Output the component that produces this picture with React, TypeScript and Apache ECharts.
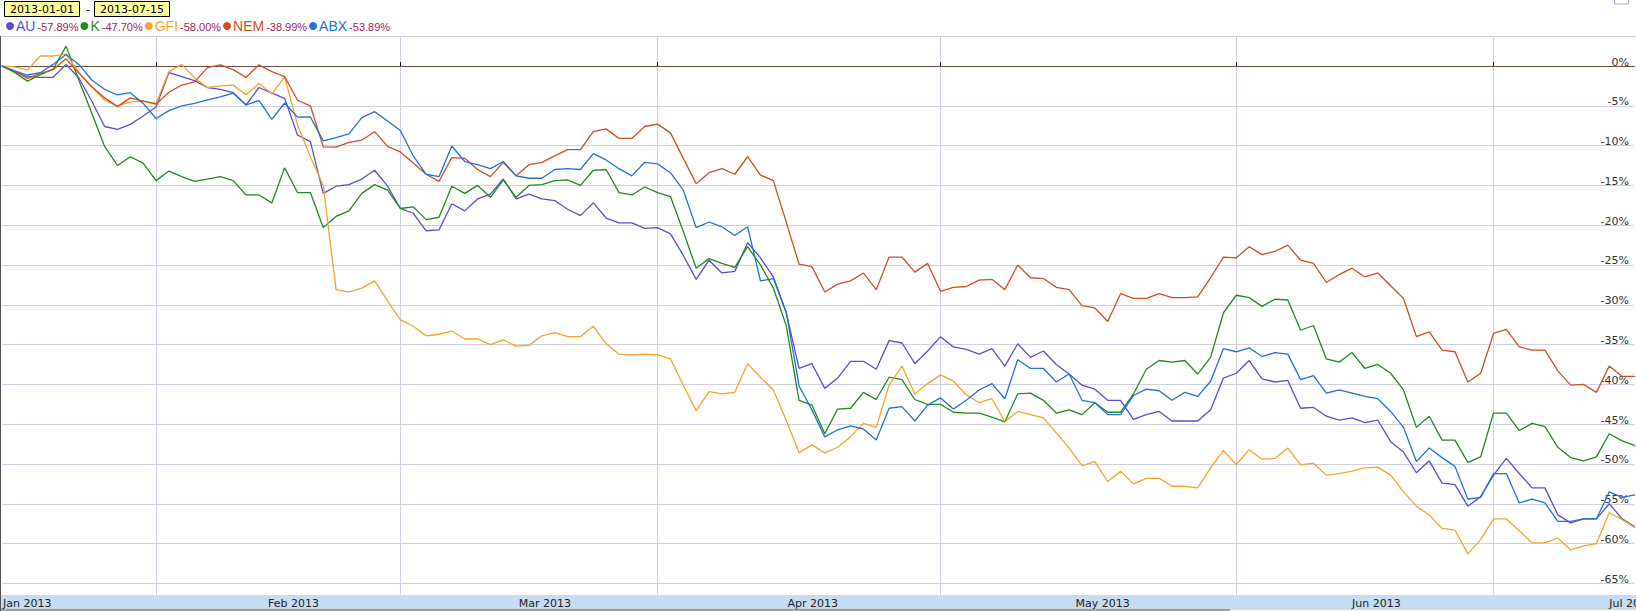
import React, { useEffect, useRef } from 'react';
import * as echarts from 'echarts';

// ---- data (percent change, one value per trading day, index 0 = first visible day) ----
const dateFrom = '2013-01-01';
const dateTo = '2013-07-15';

const seriesNames = ['AU', 'K', 'GFI', 'NEM', 'ABX'];
const seriesColors = ['#5b4fce', '#1e8c1e', '#f7a32a', '#d44d22', '#2272d6'];

const au = [
  0, -0.7, -1.34, -1.42, -1.42, 0.2, -1.5, -4.4, -7.6, -7.96,
  -7.33, -6.28, -5.15, -0.84, -1.34, -1.84, -2.7, -2.93, -3.35, -4.9,
  -2.7, -3.4, -4.06, -8.67, -9.5, -16.0, -15.1, -14.9, -14.2, -13.1,
  -15.1, -17.9, -18.5, -20.7, -20.6, -17.3, -18.2, -16.7, -16.1, -14.2,
  -16.7, -16.1, -16.7, -16.9, -18.0, -18.8, -17.2, -19.1, -19.7, -19.7,
  -20.4, -20.3, -21.1, -23.8, -26.8, -24.4, -26.0, -25.8, -22.2, -24.1,
  -26.5, -31.0, -38.0, -37.4, -40.5, -39.2, -37.1, -37.1, -38.1, -34.5,
  -34.8, -37.4, -35.8, -34.0, -35.3, -35.6, -36.2, -35.5, -37.7, -34.9,
  -36.6, -35.8, -37.5, -38.7, -40.1, -40.6, -42.0, -42.0, -44.4, -43.8,
  -43.4, -44.6, -44.6, -44.6, -43.2, -39.2, -38.6, -37.0, -39.3, -39.7,
  -39.5, -43.0, -42.9, -44.0, -44.5, -44.2, -44.8, -44.5, -47.2, -48.5,
  -51.1, -49.6, -52.4, -52.6, -55.3, -54.1, -51.4, -49.3, -51.2, -53.0,
  -53.0, -56.4, -57.4, -56.9, -56.9, -55.0, -56.9, -57.89,
];

const k = [
  0, -0.8, -1.9, -1.1, -0.4, 2.5, -1.8, -5.9, -10.1, -12.5,
  -11.4, -12.2, -14.4, -13.2, -13.9, -14.5, -14.2, -13.9, -14.4, -16.2,
  -16.2, -17.2, -12.8, -15.9, -15.9, -20.3, -18.9, -18.2, -16.0, -14.9,
  -15.6, -17.9, -17.7, -19.3, -19.0, -15.1, -16.0, -15.0, -16.5, -14.3,
  -16.5, -15.0, -14.9, -14.4, -14.3, -15.0, -13.1, -13.0, -15.9, -16.2,
  -15.2, -15.9, -16.4, -20.8, -25.4, -24.2, -24.8, -25.3, -22.7, -25.0,
  -27.9, -32.6, -42.0, -42.6, -46.2, -43.1, -43.0, -41.0, -41.9, -39.1,
  -39.4, -41.9, -42.5, -42.5, -43.5, -43.6, -43.6, -44.1, -44.7, -41.2,
  -41.1, -42.0, -43.6, -43.2, -43.8, -42.3, -43.5, -43.5, -41.2, -38.1,
  -37.0, -37.2, -37.0, -38.7, -36.6, -31.0, -28.8, -29.1, -30.2, -29.3,
  -29.4, -33.2, -32.6, -36.8, -37.2, -36.0, -38.0, -37.5, -38.6, -40.7,
  -45.4, -44.0, -47.0, -47.0, -49.8, -49.1, -43.6, -43.6, -45.8, -44.9,
  -45.3, -47.9, -49.2, -49.6, -49.1, -46.2, -47.1, -47.7,
];

const gfi = [
  0, -0.1, -0.5, 1.26, 1.26, 1.5, -0.8, -2.6, -4.3, -5.0,
  -4.5, -4.4, -4.7, -0.7, 0.2, -1.5, -2.7, -2.5, -2.4, -3.6,
  -2.2, -3.5, -1.4, -7.4, -11.4, -15.0, -28.1, -28.4, -27.9, -27.0,
  -29.5, -31.9, -32.7, -33.9, -33.7, -33.3, -34.3, -34.3, -35.0, -34.4,
  -35.2, -35.1, -33.9, -33.5, -34.0, -34.0, -32.7, -34.9, -36.2, -36.3,
  -36.2, -36.3, -36.8, -40.1, -43.3, -40.9, -41.2, -41.0, -37.4, -39.1,
  -40.7, -44.5, -48.6, -47.6, -48.6, -47.9, -46.6, -44.9, -45.4, -40.1,
  -37.7, -41.2, -39.9, -38.8, -39.6, -41.3, -42.3, -41.8, -44.7, -43.4,
  -43.8, -44.2, -46.1, -48.0, -50.2, -49.7, -52.2, -50.9, -52.5, -51.8,
  -51.8, -52.8, -52.8, -53.0, -50.5, -48.3, -50.1, -48.2, -49.4, -49.3,
  -48.0, -50.1, -49.9, -51.4, -51.2, -50.9, -50.5, -50.4, -51.4, -53.5,
  -55.3, -56.4, -58.1, -58.3, -61.3, -59.5, -56.9, -56.9, -58.4, -59.9,
  -59.9, -59.3, -60.8, -60.3, -60.0, -56.1, -57.0, -58.0,
];

const nem = [
  0, -0.6, -1.55, -0.92, -0.45, 0.9, -0.9, -2.6, -4.0, -5.1,
  -4.0, -4.4, -4.8, -3.3, -2.4, -2.0, -0.2, 0.15, -0.45, -1.45,
  0.15, -0.7, -1.34, -4.3, -5.0, -10.15, -10.2, -9.6, -9.3, -8.25,
  -10.1, -10.8, -12.2, -13.6, -14.5, -11.5, -11.6, -13.0, -13.9, -12.1,
  -13.8, -12.4, -12.1, -11.3, -10.5, -10.5, -8.25, -7.9, -9.1, -9.1,
  -7.6, -7.3, -8.4, -11.6, -14.8, -13.4, -12.9, -13.6, -11.4, -13.7,
  -14.4, -19.6, -24.9, -25.2, -28.4, -27.4, -27.0, -26.0, -28.1, -24.0,
  -24.0, -25.9, -24.8, -28.3, -27.8, -27.7, -26.9, -26.8, -28.1, -25.0,
  -26.6, -26.7, -27.8, -28.1, -30.1, -30.4, -32.1, -28.6, -29.2, -29.2,
  -28.6, -29.1, -29.1, -29.0, -26.6, -24.0, -24.1, -22.7, -23.7, -23.3,
  -22.5, -24.4, -24.8, -27.2, -26.2, -25.4, -26.5, -26.0, -27.6, -29.2,
  -34.0, -33.4, -35.7, -35.9, -39.7, -38.6, -33.6, -33.1, -35.3, -35.7,
  -35.7, -38.3, -40.1, -40.0, -41.0, -37.7, -39.0, -38.99,
];

const abx = [
  0, -0.6, -1.13, -0.84, 0.2, 1.45, 0.2, -1.76, -2.93, -3.64,
  -3.35, -4.7, -6.6, -5.6, -5.0, -4.7, -4.25, -3.87, -3.4, -4.9,
  -4.33, -6.7, -4.65, -6.43, -6.4, -9.4, -9.0, -8.53, -6.48, -5.74,
  -6.9, -8.1, -11.3, -13.6, -13.9, -10.05, -12.0, -12.4, -12.9, -12.0,
  -13.8, -14.1, -14.1, -13.0, -12.9, -13.0, -11.0, -11.8, -12.9, -13.8,
  -12.1, -12.3, -13.4, -15.6, -20.3, -19.6, -20.2, -21.3, -20.2, -27.0,
  -26.7, -30.9, -40.2, -43.2, -46.6, -45.7, -45.2, -45.6, -47.0, -43.0,
  -42.8, -44.6, -42.6, -41.7, -43.1, -42.0, -40.7, -39.9, -41.8, -36.9,
  -38.0, -38.0, -39.7, -38.7, -42.0, -42.3, -43.8, -43.8, -41.4, -40.6,
  -40.8, -42.0, -41.0, -41.5, -39.6, -35.5, -35.9, -35.4, -36.5, -36.0,
  -36.2, -39.4, -38.9, -41.1, -40.7, -41.1, -41.5, -41.8, -43.4, -45.4,
  -49.7, -48.0, -49.2, -50.3, -54.4, -54.2, -51.2, -51.2, -54.9, -54.4,
  -54.9, -57.2, -57.2, -56.9, -56.9, -53.5, -54.2, -53.89,
];

const seriesData = [au, k, gfi, nem, abx];

// month boundaries (trading-day index) and month label positions
const monthTicks = [12, 31, 51, 73, 96, 116];
const monthLabels = ['Jan 2013', 'Feb 2013', 'Mar 2013', 'Apr 2013', 'May 2013', 'Jun 2013', 'Jul 2013'];
const monthLabelPos = [0.1, 20.7, 40.2, 61.1, 83.5, 105.0, 125.0];

const yTicks = [0, -5, -10, -15, -20, -25, -30, -35, -40, -45, -50, -55, -60, -65];

// ---- styling ----
const FONT = "'DejaVu Sans', Verdana, sans-serif";
const NARROW = "'Liberation Sans Narrow', 'Liberation Sans', Arial, sans-serif";
const ARIAL = "'Liberation Sans', Arial, sans-serif";
const GRID = '#d0d0e2';

// plot geometry (used only to place the clipped last month label like the original)
const GRID_LEFT = 1;
const GRID_RIGHT = 1;
const CHART_W = 1636;
const X_MAX = 127;

function buildOption() {
  const lastPct: Record<string, string> = {};
  seriesNames.forEach((n, i) => {
    const arr = seriesData[i];
    lastPct[n] = `${arr[arr.length - 1].toFixed(2)}%`;
  });

  const titleText = {
    fontFamily: FONT,
    fontSize: 11,
    fontWeight: 'normal',
    color: '#000',
    lineHeight: 12,
  };

  const nAxis = monthLabels.length - 1; // last label runs off the right edge, as in the original
  const lastLabelX =
    GRID_LEFT + (monthLabelPos[nAxis] / X_MAX) * (CHART_W - GRID_LEFT - GRID_RIGHT);

  return {
    animation: false,
    backgroundColor: '#fff',
    title: [
      {
        text: dateFrom, left: 4, top: 1, padding: [2, 6],
        backgroundColor: '#ffffa6', borderColor: '#000', borderWidth: 1,
        textStyle: titleText,
      },
      { text: '-', left: 86, top: 3, padding: 0, textStyle: titleText },
      {
        text: dateTo, left: 94, top: 1, padding: [2, 6],
        backgroundColor: '#ffffa6', borderColor: '#000', borderWidth: 1,
        textStyle: titleText,
      },
    ],
    legend: {
      left: 6,
      top: 19,
      icon: 'circle',
      itemWidth: 8,
      itemHeight: 8,
      itemGap: 2,
      padding: 0,
      selectedMode: false,
      data: seriesNames.map((n, i) => ({
        name: n,
        textStyle: {
          rich: {
            n: { color: seriesColors[i], fontSize: 14, fontFamily: NARROW, padding: [0, 0, 0, -3] },
            v: { color: '#a3245c', fontSize: 11, fontFamily: ARIAL, padding: [2, 0, 0, 2] },
          },
        },
      })),
      formatter: (name: string) => `{n|${name}}{v|${lastPct[name]}}`,
    },
    grid: { left: GRID_LEFT, right: GRID_RIGHT, top: 36, bottom: 16, show: false },
    xAxis: {
      type: 'value',
      min: 0,
      max: X_MAX,
      axisLine: { show: false },
      axisTick: {
        show: true, inside: true, length: 4, customValues: monthTicks,
        lineStyle: { color: '#000', width: 1 },
      },
      axisLabel: {
        customValues: monthLabelPos.slice(0, nAxis),
        align: 'left',
        margin: 3,
        fontFamily: FONT,
        fontSize: 11,
        color: '#222',
        showMinLabel: true,
        showMaxLabel: true,
        formatter: (v: number) => {
          const idx = monthLabelPos.indexOf(v);
          return idx >= 0 ? monthLabels[idx] : '';
        },
      },
      splitLine: { show: true, lineStyle: { color: GRID, width: 1 } },
    },
    yAxis: {
      type: 'value',
      position: 'right',
      min: -66.46,
      max: 3.77,
      axisLine: { show: false },
      axisTick: { show: false, customValues: yTicks },
      axisLabel: {
        customValues: yTicks,
        inside: true,
        margin: 6,
        verticalAlign: 'bottom',
        lineHeight: 8,
        fontFamily: FONT,
        fontSize: 11,
        color: '#333',
        formatter: (v: number) => `${v}%`,
      },
      splitLine: { show: true, lineStyle: { color: GRID, width: 1 } },
    },
    series: seriesNames.map((n, i) => ({
      name: n,
      type: 'line',
      data: seriesData[i].map((v, j) => [j, v]),
      symbol: 'none',
      showSymbol: false,
      lineStyle: { width: 1.3, color: seriesColors[i] },
      itemStyle: { color: seriesColors[i] },
      z: 3,
      ...(i === 0
        ? {
            markLine: {
              silent: true,
              symbol: ['none', 'none'],
              label: { show: false },
              lineStyle: { color: '#6e4c43', width: 1, type: 'solid' },
              data: [{ yAxis: 0 }],
              z: 2,
            },
          }
        : {}),
    })),
    graphic: [
      {
        type: 'rect', z: -1, silent: true,
        shape: { x: 0, y: 595, width: CHART_W, height: 15 },
        style: { fill: '#c6dcf2' },
      },
      {
        type: 'text', silent: true,
        x: lastLabelX, y: 598,
        style: {
          text: monthLabels[nAxis], fill: '#222',
          font: `11px ${FONT}`, align: 'left', verticalAlign: 'top',
        },
      },
      {
        type: 'line', silent: true,
        shape: { x1: 0, y1: 36.5, x2: CHART_W, y2: 36.5 },
        style: { stroke: '#cccccc', lineWidth: 1 },
      },
      {
        type: 'line', silent: true,
        shape: { x1: 0.5, y1: 36, x2: 0.5, y2: 611 },
        style: { stroke: '#555', lineWidth: 1 },
      },
      {
        type: 'line', silent: true,
        shape: { x1: 0, y1: 610, x2: 1230, y2: 610 },
        style: { stroke: '#555', lineWidth: 1 },
      },
      {
        type: 'rect', silent: true,
        shape: { x: 1614.5, y: -3, width: 14, height: 7 },
        style: { fill: '#fff', stroke: '#9db0d4', lineWidth: 1 },
      },
    ],
  };
}

export default function App() {
  const ref = useRef<HTMLDivElement>(null);
  useEffect(() => {
    document.body.style.margin = '0';
    const chart = echarts.init(ref.current as HTMLDivElement, null, { renderer: 'svg' });
    chart.setOption(buildOption() as any);
    return () => chart.dispose();
  }, []);
  return <div ref={ref} style={{ width: 1636, height: 611 }} />;
}
